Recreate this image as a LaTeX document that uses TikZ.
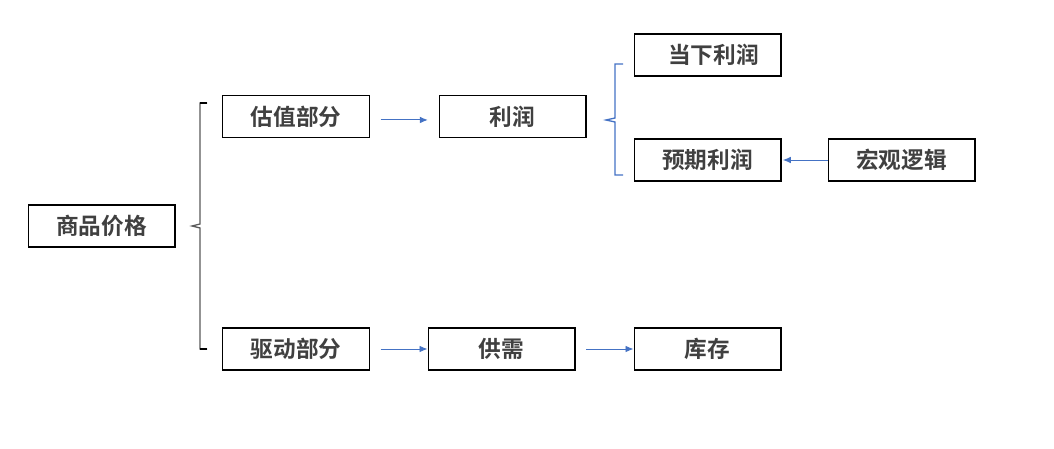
\documentclass[tikz,border=0pt]{standalone}
\usepackage{fontspec}
\usepackage{tikz}
\usetikzlibrary{arrows.meta, positioning}
\newfontfamily\cjk{Noto Sans CJK SC}[BoldFont={* Bold}]
\definecolor{txtgray}{HTML}{404040}
\definecolor{linkblue}{HTML}{4472C4}
\tikzset{>={Latex[length=6pt,width=5pt]}}
\tikzset{
  box/.style={draw=black, line width=1pt, minimum width=110pt, minimum height=31.5pt,
    inner sep=0pt, text=txtgray, font=\cjk\bfseries\fontsize{17}{18}\selectfont},
  link/.style={->, linkblue, line width=0.7pt},
  bracket/.style={line width=1pt}
}

\begin{document}
\begin{tikzpicture}[x=0.75pt, y=-0.75pt]
\useasboundingbox (0,0) rectangle (1054,449);

% boxes
\node[box] (price) at (101.5,226) {商品价格};
\node[box] (value) at (296,116.5) {估值部分};
\node[box] (drive) at (296,349) {驱动部分};
\node[box] (profit) at (512.5,116.5) {利润};
\node[box] (nowp) at (707.5,55) {\hspace*{9pt}当下利润};
\node[box] (expp) at (707.5,160) {预期利润};
\node[box] (macro) at (901.5,160) {宏观逻辑};
\node[box] (supply) at (501.5,349) {供需};
\node[box] (stock) at (707.5,349) {库存};

% left bracket
\draw[bracket, gray!70!black] (207,103) -- (200,103) -- (200,224) -- (192,226) -- (200,228) -- (200,349) -- (207,349);
\draw[bracket, black] (207,103) -- (200,103);
\draw[bracket, black] (207,349) -- (200,349);

% right bracket
\draw[bracket, linkblue] (623,64) -- (615,64) -- (615,118) -- (606,120) -- (615,122) -- (615,175) -- (623,175);

% arrows
\coordinate (v1) at ([xshift=8pt,yshift=-2.6pt]value.east);
\coordinate (v2) at ([xshift=-8pt]profit.west |- v1);
\draw[link] (v1) -- (v2);
\draw[link] ([xshift=8pt]drive.east) -- (supply.west);
\draw[link] ([xshift=8pt]supply.east) -- (stock.west);
\draw[link] (macro.west) -- ([xshift=1pt]expp.east);

\end{tikzpicture}
\end{document}
